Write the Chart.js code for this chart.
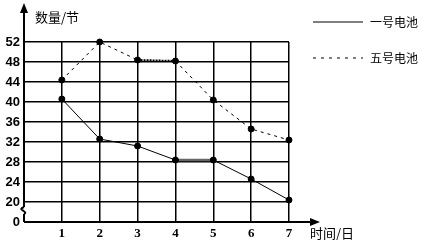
<!DOCTYPE html>
<html>
<head>
<meta charset="utf-8">
<script src="https://cdn.jsdelivr.net/npm/chart.js@4"></script>
<style>
  html,body{margin:0;padding:0;background:#fff;}
  #wrap{width:421px;height:240px;position:relative;}
</style>
</head>
<body>
<div id="wrap"><canvas id="c" width="421" height="240"></canvas></div>
<script>
const days = [1, 2, 3, 4, 5, 6, 7];
const battery1 = [40.6, 32.6, 31.2, 28.4, 28.4, 24.6, 20.4];
const battery5 = [44.4, 52, 48.4, 48.2, 40.4, 34.6, 32.4];
const seriesNames = ["一号电池", "五号电池"];
const yTicks = [16, 20, 24, 28, 32, 36, 40, 44, 48, 52];
const yTickLabels = ["0", "20", "24", "28", "32", "36", "40", "44", "48", "52"];
const yTitle = "数量/节";
const xTitle = "时间/日";

const CJK = '"Noto Sans CJK SC", sans-serif';

const pts = (ys) => days.map((d, i) => ({ x: d, y: ys[i] }));

// axes with arrows, break mark, titles and legend
const decor = {
  id: "decor",
  afterDraw(chart){
    const ctx = chart.ctx;
    const a = chart.chartArea;
    const x0 = a.left, y0 = a.bottom;
    const y20 = chart.scales.y.getPixelForValue(20);
    ctx.save();
    ctx.strokeStyle = "#000";
    ctx.fillStyle = "#000";
    ctx.lineWidth = 2;
    // x axis
    ctx.beginPath();
    ctx.moveTo(x0, y0); ctx.lineTo(312, y0); ctx.stroke();
    ctx.beginPath();
    ctx.moveTo(320, y0); ctx.lineTo(310, y0 - 4); ctx.lineTo(310, y0 + 4); ctx.closePath(); ctx.fill();
    // y axis with break
    const bTop = y20 + 5, bBot = y20 + 12;
    ctx.beginPath();
    ctx.moveTo(x0, 12); ctx.lineTo(x0, bTop); ctx.stroke();
    ctx.beginPath();
    ctx.moveTo(x0, bTop);
    ctx.quadraticCurveTo(x0 - 5, bTop + 2, x0 - 1, (bTop + bBot) / 2);
    ctx.quadraticCurveTo(x0 + 3, bBot - 1, x0, bBot);
    ctx.stroke();
    ctx.beginPath();
    ctx.moveTo(x0, bBot); ctx.lineTo(x0, y0); ctx.stroke();
    ctx.beginPath();
    ctx.moveTo(x0, 3); ctx.lineTo(x0 - 4, 13); ctx.lineTo(x0 + 4, 13); ctx.closePath(); ctx.fill();
    // titles
    ctx.font = "13px " + CJK;
    ctx.textBaseline = "middle";
    ctx.textAlign = "left";
    ctx.fillText(yTitle, 35, 17);
    ctx.fillText(xTitle, 310, 233);
    // legend
    ctx.lineWidth = 1;
    ctx.beginPath();
    ctx.moveTo(313, 22); ctx.lineTo(363, 22); ctx.stroke();
    ctx.setLineDash([3, 5]);
    ctx.beginPath();
    ctx.moveTo(313, 58); ctx.lineTo(363, 58); ctx.stroke();
    ctx.setLineDash([]);
    ctx.font = "12px " + CJK;
    ctx.fillText(seriesNames[0], 370, 22);
    ctx.fillText(seriesNames[1], 370, 58);
    ctx.restore();
  }
};

new Chart(document.getElementById("c"), {
  type: "line",
  data: {
    datasets: [
      {
        label: seriesNames[0],
        data: pts(battery1),
        clip: false,
        borderColor: "#000",
        borderWidth: 1,
        pointRadius: 3,
        pointBackgroundColor: "#000",
        pointBorderColor: "#000",
        segment: {
          borderColor: (c) => c.p0DataIndex === 3 ? "#666" : "#000",
          borderWidth: (c) => c.p0DataIndex === 3 ? 2.5 : 1
        }
      },
      {
        label: seriesNames[1],
        data: pts(battery5),
        clip: false,
        borderColor: "#000",
        borderWidth: 1,
        borderDash: [3, 4],
        pointRadius: 3,
        pointBackgroundColor: "#000",
        pointBorderColor: "#000",
        segment: {
          borderDash: (c) => c.p0DataIndex === 2 ? [2, 1] : [3, 4],
          borderWidth: (c) => c.p0DataIndex === 2 ? 2 : 1
        }
      }
    ]
  },
  options: {
    responsive: false,
    animation: false,
    layout: { padding: { top: 42, right: 132, left: 0, bottom: 0 } },
    plugins: { legend: { display: false }, tooltip: { enabled: false } },
    scales: {
      x: {
        type: "linear",
        min: 0, max: 7,
        afterFit: (s) => { s.height = 18; },
        border: { display: false },
        grid: {
          color: (c) => c.tick.value === 0 ? "rgba(0,0,0,0)" : "#000",
          lineWidth: 1.5,
          drawTicks: false
        },
        ticks: {
          stepSize: 1,
          padding: 4,
          color: "#000",
          font: { family: '"Liberation Serif", serif', size: 13, weight: "bold" },
          callback: (v) => v === 0 ? "" : v
        }
      },
      y: {
        min: 16, max: 52,
        afterFit: (s) => { s.width = 24; },
        afterBuildTicks: (s) => { s.ticks = yTicks.map(v => ({ value: v })); },
        border: { display: false },
        grid: {
          color: (c) => c.tick.value === 16 ? "rgba(0,0,0,0)" : "#000",
          lineWidth: 1.5,
          drawTicks: false
        },
        ticks: {
          padding: 4,
          color: "#000",
          font: { family: '"Liberation Sans", sans-serif', size: 13, weight: "bold" },
          callback: (v) => yTickLabels[yTicks.indexOf(v)]
        }
      }
    }
  },
  plugins: [decor]
});
</script>
</body>
</html>
